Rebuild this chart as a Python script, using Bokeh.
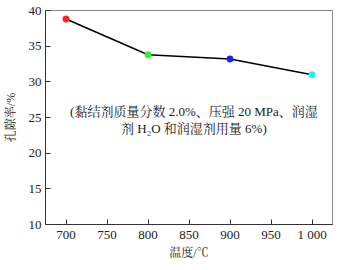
from bokeh.plotting import figure
from bokeh.models import Label, FixedTicker
from bokeh.embed import file_html
from bokeh.resources import INLINE

temperature = [700, 800, 900, 1000]
porosity = [38.8, 33.8, 33.2, 31.0]
point_colors = ["#ff2020", "#33ee33", "#2020ee", "#22eeee"]
x_ticks = [700, 750, 800, 850, 900, 950, 1000]
x_tick_labels = ["700", "750", "800", "850", "900", "950", "1 000"]
y_ticks = [10, 15, 20, 25, 30, 35, 40]
note_line1 = "(黏结剂质量分数 2.0%、压强 20 MPa、润湿"
note_line2 = "剂 H₂O 和润湿剂用量 6%)"
x_title = "温度/℃"
y_title = "孔隙率/%"

FONT = "'Liberation Serif', 'Noto Serif CJK SC', 'Noto Sans CJK SC', serif"
NUMFONT = "Liberation Serif"

p = figure(width=334, height=262, x_range=(675, 1025), y_range=(10, 40),
           output_backend="svg", toolbar_location=None,
           min_border_left=39, min_border_right=2, min_border_top=10, min_border_bottom=26)
p.background_fill_color = "white"
p.border_fill_color = "white"
p.outline_line_color = "#888888"
p.outline_line_width = 1
p.grid.visible = False

p.line(temperature, porosity, line_color="black", line_width=1.5)
p.scatter(temperature, porosity, size=6.5, fill_color=point_colors,
          line_color=point_colors, line_width=0.5)

for ax in (p.xaxis[0], p.yaxis[0]):
    ax.major_tick_in = 5
    ax.major_tick_out = 0
    ax.minor_tick_in = 0
    ax.minor_tick_out = 0
    ax.axis_line_color = "#333333"
    ax.major_tick_line_color = "#333333"
    ax.major_label_text_font = NUMFONT
    ax.major_label_text_font_size = "13px"
    ax.major_label_text_color = "#222222"
    ax.axis_label_text_font = FONT
    ax.axis_label_text_font_size = "12px"
    ax.axis_label_text_font_style = "normal"
    ax.axis_label_text_color = "#222222"

p.xaxis.ticker = FixedTicker(ticks=x_ticks)
p.xaxis.major_label_overrides = {t: l for t, l in zip(x_ticks, x_tick_labels)}
p.yaxis.ticker = FixedTicker(ticks=y_ticks)
p.xaxis.axis_label = x_title
p.yaxis.axis_label = y_title
p.xaxis.major_label_standoff = 2
p.yaxis.major_label_standoff = 4
p.xaxis.axis_label_standoff = 1
p.yaxis.axis_label_standoff = 8

for txt, yv in ((note_line1, 25.8), (note_line2, 23.5)):
    p.add_layout(Label(x=856, y=yv, text=txt, text_align="center",
                       text_baseline="middle", text_font=FONT,
                       text_font_size="13px", text_color="#222222"))

open("out.html", "w").write(file_html(p, INLINE))
